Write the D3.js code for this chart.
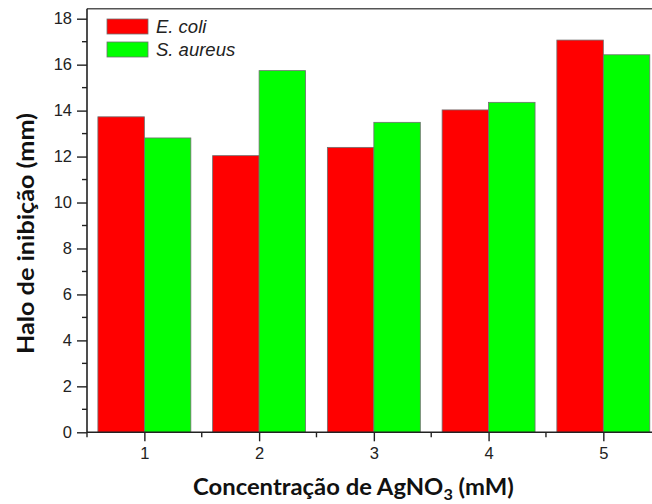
<!DOCTYPE html>
<html><head><meta charset="utf-8">
<script src="https://cdn.jsdelivr.net/npm/d3@7"></script>
<style>body{margin:0;background:#fff}svg{display:block}</style>
</head><body>
<script>
const categories = [1, 2, 3, 4, 5];
const seriesNames = ["E. coli", "S. aureus"];
const ecoli = [13.73, 12.04, 12.40, 14.03, 17.07];
const saureus = [12.81, 15.74, 13.49, 14.36, 16.43];
const yTicks = [0, 2, 4, 6, 8, 10, 12, 14, 16, 18];
const colors = ["#ff0000", "#00ff00"];

const W = 652, H = 504;
const m = {left: 87, top: 8.7, bottom: 432.3, right: 660.7};
const svg = d3.select("body").append("svg").attr("width", W).attr("height", H);

const x = d3.scaleLinear().domain([0.5, 5.5]).range([m.left, m.right]);
const y = d3.scaleLinear().domain([0, 18]).range([m.bottom, 18.7]);
const barW = 0.405;
const series = [ecoli, saureus];

// bars
series.forEach((vals, si) => {
  svg.append("g").selectAll("rect").data(categories).join("rect")
    .attr("x", (c) => si === 0 ? x(c - barW) : x(c))
    .attr("width", x(barW) - x(0))
    .attr("y", (c, i) => y(vals[i]))
    .attr("height", (c, i) => y(0) - y(vals[i]))
    .attr("fill", colors[si])
    .attr("stroke", "#6f6f6f").attr("stroke-width", 0.8);
});

// top frame
svg.append("line").attr("x1", m.left).attr("x2", m.right).attr("y1", m.top).attr("y2", m.top)
  .attr("stroke", "#555").attr("stroke-width", 1.6);

// y axis
const yAxis = d3.axisLeft(y).tickValues(yTicks).tickSize(10).tickPadding(5).tickFormat(d3.format("d"));
const gy = svg.append("g").attr("transform", `translate(${m.left},0)`).call(yAxis);
gy.select(".domain").remove();
svg.append("line").attr("x1", m.left).attr("x2", m.left).attr("y1", m.top).attr("y2", m.bottom)
  .attr("stroke", "#222").attr("stroke-width", 1.6);
const yMinor = d3.range(1, 18, 2);
svg.append("g").selectAll("line").data(yMinor).join("line")
  .attr("x1", m.left - 5).attr("x2", m.left).attr("y1", d => y(d)).attr("y2", d => y(d))
  .attr("stroke", "#222").attr("stroke-width", 1.4);

// x axis
const xAxis = d3.axisBottom(x).tickValues(categories).tickSize(9).tickPadding(6).tickFormat(d3.format("d"));
const gx = svg.append("g").attr("transform", `translate(0,${m.bottom})`).call(xAxis);
gx.select(".domain").remove();
svg.append("line").attr("x1", m.left).attr("x2", m.right).attr("y1", m.bottom).attr("y2", m.bottom)
  .attr("stroke", "#222").attr("stroke-width", 1.6);
const xMinor = [0.5, 1.5, 2.5, 3.5, 4.5, 5.5];
svg.append("g").selectAll("line").data(xMinor).join("line")
  .attr("x1", d => x(d)).attr("x2", d => x(d)).attr("y1", m.bottom).attr("y2", m.bottom + 5)
  .attr("stroke", "#222").attr("stroke-width", 1.4);

[gx, gy].forEach(g => {
  g.selectAll(".tick line").attr("stroke", "#222").attr("stroke-width", 1.4);
  g.selectAll(".tick text").attr("font-family", "Liberation Sans, Arial, sans-serif")
    .attr("font-size", 16.5).attr("fill", "#222");
});

// legend
const lg = svg.append("g");
seriesNames.forEach((n, i) => {
  lg.append("rect").attr("x", 107).attr("y", 19 + i * 23).attr("width", 41).attr("height", 15)
    .attr("fill", colors[i]).attr("stroke", "#6f6f6f").attr("stroke-width", 0.8);
  lg.append("text").attr("x", 156).attr("y", 33 + i * 23)
    .attr("font-family", "Liberation Sans, Arial, sans-serif").attr("font-style", "italic")
    .attr("font-size", 18.5).attr("fill", "#222").text(n);
});

// axis titles (horizontally fitted to mimic the narrow bold face)
const tf = "Lato, 'Open Sans', sans-serif";
function fitGroup(g, target) {
  const w = g.node().getBBox().width;
  return target / w;
}
const xg = svg.append("g");
const xt = xg.append("text").attr("x", 0).attr("y", 0)
  .attr("font-family", tf).attr("font-weight", "bold").attr("font-size", 22).attr("fill", "#111");
xt.append("tspan").text("Concentração de AgNO");
xt.append("tspan").attr("font-size", 15).attr("dy", 5).text("3");
xt.append("tspan").attr("dy", -5).text(" (mM)");
const sx = fitGroup(xg, 321);
xg.attr("transform", `translate(193,495) scale(${sx},1)`);

const yg = svg.append("g");
yg.append("text").attr("x", 0).attr("y", 0)
  .attr("font-family", tf).attr("font-weight", "bold").attr("font-size", 22).attr("fill", "#111")
  .text("Halo de inibição (mm)");
const sy = fitGroup(yg, 241);
yg.attr("transform", `translate(34,354) rotate(-90) scale(${sy},1)`);
</script>
</body></html>
